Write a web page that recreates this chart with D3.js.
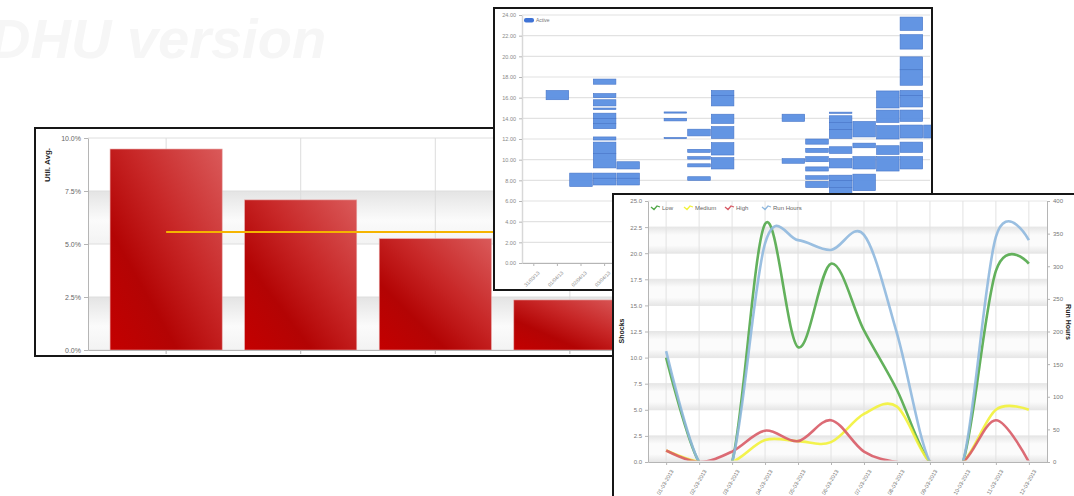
<!DOCTYPE html>
<html><head><meta charset="utf-8">
<script src="https://cdn.jsdelivr.net/npm/d3@7"></script>
<style>html,body{margin:0;padding:0;background:#fff;overflow:hidden}svg{display:block;font-family:"Liberation Sans",Arial,sans-serif}</style>
</head><body><svg id="c" width="1074" height="496"></svg>
<script>
// ---------- Panel 1: utilisation bars ----------
const utilCategories = ["Unit 1", "Unit 2", "Unit 3", "Unit 4"];
const utilValues = [9.48, 7.08, 5.25, 2.36];
const utilAverage = 5.57;
const utilTicks = [0, 2.5, 5, 7.5, 10];

// ---------- Panel 2: activity blocks (column, from hour, to hour) ----------
const ganttDays = ["31/03/13","01/04/13","02/04/13","03/04/13","04/04/13","05/04/13","06/04/13","07/04/13","08/04/13",
                   "09/04/13","10/04/13","11/04/13","12/04/13","13/04/13","14/04/13","15/04/13","16/04/13","17/04/13"];
const ganttCol  = [1, 2,
  3,3,3,3,3,3,3,3,3,3,3,3,
  4,4,4,
  6,6,6,
  7,7,7,7,7,
  8,8,8,8,8,8,
  11,11,
  12,12,12,12,12,12,
  13,13,13,13,13,13,13,13,13,
  14,14,14,14,
  15,15,15,15,15,
  16,16,16,16,16,16,16,16,16,16,
  17];
const ganttFrom = [15.8, 7.4,
  17.3,16.0,15.2,14.85,14.0,13.5,13.0,11.9,10.6,9.2,8.2,7.55,
  9.1,8.2,7.55,
  14.52,13.75,12.05,
  12.3,10.7,10.05,9.3,8.0,
  16.2,15.2,13.5,12.05,10.45,9.1,
  13.7,9.65,
  11.5,10.7,9.8,8.9,8.1,7.3,
  14.48,13.6,12.9,12.05,10.6,9.2,8.0,7.3,6.5,
  12.2,11.15,9.1,7.0,
  15.0,13.6,12.0,10.5,8.9,
  22.5,20.7,18.7,17.2,16.2,15.1,13.7,12.1,10.7,9.1,
  12.1];
const ganttTo   = [16.7, 8.7,
  17.8,16.4,15.8,15.0,14.5,14.0,13.5,12.2,11.7,10.6,8.7,8.2,
  9.8,8.7,8.2,
  14.62,14.0,12.15,
  12.95,11.0,10.3,9.6,8.35,
  16.7,16.2,14.4,13.2,11.65,10.2,
  14.4,10.1,
  12.0,11.1,10.3,9.3,8.45,7.9,
  14.6,14.25,13.6,12.9,11.25,10.1,8.5,8.0,7.3,
  13.7,11.6,10.3,8.6,
  16.65,14.8,13.3,11.35,10.3,
  23.8,22.1,19.95,18.7,16.7,16.2,14.8,13.35,11.7,10.3,
  13.35];
const ganttTicks = [0, 2, 4, 6, 8, 10, 12, 14, 16, 18, 20, 22, 24];

// ---------- Panel 3: shocks & run hours ----------
const shockDates = ["01-03-2013","02-03-2013","03-03-2013","04-03-2013","05-03-2013","06-03-2013",
                    "07-03-2013","08-03-2013","09-03-2013","10-03-2013","11-03-2013","12-03-2013"];
const lowShocks    = [10.0, 0, 0, 22.8, 11.0, 19.0, 12.6, 6.9, 0, 0, 18.3, 19.0];
const mediumShocks = [1.1, 0, 0, 2.1, 2.0, 1.9, 4.6, 5.3, 0, 0, 5.0, 5.0];
const highShocks   = [1.1, 0, 1.0, 3.0, 2.0, 4.0, 1.0, 0, 0, 0, 4.0, 0];
const runHours     = [170, 0, 0, 335, 340, 325, 348, 197, 0, 0, 345, 340];
const shockTicks = [0, 2.5, 5, 7.5, 10, 12.5, 15, 17.5, 20, 22.5, 25];
const hourTicks  = [0, 50, 100, 150, 200, 250, 300, 350, 400];
const seriesNames  = ["Low", "Medium", "High", "Run Hours"];
const seriesColors = ["#52a84a", "#f2f23a", "#d85b66", "#8fb8de"];

const svg = d3.select("#c");
const defs = svg.append("defs");

// watermark
svg.append("text").attr("x", -10).attr("y", 58).attr("font-size", 56)
  .attr("font-weight", "bold").attr("font-style", "italic").attr("fill", "#f6f6f6")
  .text("DHU version");

function styleAxis(g, color, size) {
  g.select(".domain").attr("stroke", "#b5b5b5");
  g.selectAll(".tick line").attr("stroke", "#b5b5b5");
  g.selectAll(".tick text").attr("fill", color).attr("font-size", size).attr("font-family", "Liberation Sans, Arial, sans-serif");
}

// ================= PANEL 1 =================
{
  const p = svg.append("g");
  const fx = 35, fy = 128, fw = 625, fh = 228;
  defs.append("clipPath").attr("id", "clip1").append("rect").attr("x", fx).attr("y", fy).attr("width", fw).attr("height", fh);
  p.append("rect").attr("x", fx).attr("y", fy).attr("width", fw).attr("height", fh).attr("fill", "#fff");
  const g = p.append("g").attr("clip-path", "url(#clip1)");
  const x = d3.scaleBand().domain(utilCategories).range([88, 648]).paddingInner(0.167).paddingOuter(0.164);
  const y = d3.scaleLinear().domain([0, 10]).range([350, 138]);

  const bg = defs.append("linearGradient").attr("id", "band1").attr("x1", 0).attr("y1", 0).attr("x2", 0).attr("y2", 1);
  bg.append("stop").attr("offset", 0).attr("stop-color", "#e4e4e4");
  bg.append("stop").attr("offset", 0.55).attr("stop-color", "#fbfbfb");
  bg.append("stop").attr("offset", 1).attr("stop-color", "#f3f3f3");
  g.selectAll(".band").data([[5, 7.5], [0, 2.5]]).join("rect")
    .attr("x", 88).attr("width", 560).attr("y", d => y(d[1])).attr("height", d => y(d[0]) - y(d[1]))
    .attr("fill", "url(#band1)");
  g.selectAll(".hg").data(utilTicks).join("line")
    .attr("x1", 88).attr("x2", 648).attr("y1", d => y(d)).attr("y2", d => y(d)).attr("stroke", "#dedede");
  g.selectAll(".vg").data(utilCategories).join("line")
    .attr("x1", d => x(d) + x.bandwidth() / 2).attr("x2", d => x(d) + x.bandwidth() / 2)
    .attr("y1", 138).attr("y2", 350).attr("stroke", "#dcdcdc");

  const rg = defs.append("linearGradient").attr("id", "bar1").attr("x1", 0).attr("y1", 1).attr("x2", 1).attr("y2", 0);
  rg.append("stop").attr("offset", 0).attr("stop-color", "#c40000");
  rg.append("stop").attr("offset", 0.3).attr("stop-color", "#b30404");
  rg.append("stop").attr("offset", 0.6).attr("stop-color", "#c82828");
  rg.append("stop").attr("offset", 1).attr("stop-color", "#da5a5a");
  g.selectAll(".bar").data(utilValues).join("rect")
    .attr("x", (d, i) => x(utilCategories[i])).attr("width", x.bandwidth())
    .attr("y", d => y(d)).attr("height", d => y(0) - y(d))
    .attr("fill", "url(#bar1)").attr("stroke", "#e7a5a5").attr("stroke-width", 0.6);

  g.append("line")
    .attr("x1", x(utilCategories[0]) + x.bandwidth() / 2)
    .attr("x2", x(utilCategories[utilCategories.length - 1]) + x.bandwidth() / 2)
    .attr("y1", y(utilAverage)).attr("y2", y(utilAverage))
    .attr("stroke", "#f5b400").attr("stroke-width", 2);

  const ya = g.append("g").attr("transform", "translate(88,0)")
    .call(d3.axisLeft(y).tickValues(utilTicks).tickFormat(d => d.toFixed(1) + "%").tickSize(4).tickSizeOuter(0));
  styleAxis(ya, "#666", 7);
  const xa = g.append("g").attr("transform", "translate(0,350)")
    .call(d3.axisBottom(x).tickSize(4).tickSizeOuter(0).tickFormat(""));
  styleAxis(xa, "#666", 7);
  g.append("text").attr("transform", "translate(50,165) rotate(-90)").attr("text-anchor", "middle")
    .attr("font-size", 8).attr("font-weight", "bold").attr("fill", "#222").text("Util. Avg.");

  p.append("rect").attr("x", fx).attr("y", fy).attr("width", fw).attr("height", fh)
    .attr("fill", "none").attr("stroke", "#161616").attr("stroke-width", 2);
}

// ================= PANEL 2 =================
{
  const p = svg.append("g");
  const fx = 494, fy = 8, fw = 438, fh = 282;
  p.append("rect").attr("x", fx).attr("y", fy).attr("width", fw).attr("height", fh).attr("fill", "#fff");
  defs.append("clipPath").attr("id", "clip2").append("rect").attr("x", 522).attr("y", 9).attr("width", 409).attr("height", 256);
  const x = d3.scaleBand().domain(ganttDays).range([522, 522 + 18 * 23.6]).padding(0);
  const y = d3.scaleLinear().domain([0, 24]).range([263, 15]);

  p.selectAll(".hg").data(ganttTicks).join("line")
    .attr("x1", 522).attr("x2", 930).attr("y1", d => y(d)).attr("y2", d => y(d))
    .attr("stroke", "#e2e2e2").attr("stroke-width", 1.2);

  const g = p.append("g").attr("clip-path", "url(#clip2)");
  g.selectAll(".blk").data(ganttCol).join("rect")
    .attr("x", (d, i) => x(ganttDays[d]) + 0.5).attr("width", x.bandwidth() - 1)
    .attr("y", (d, i) => y(ganttTo[i]))
    .attr("height", (d, i) => Math.max(1.2, y(ganttFrom[i]) - y(ganttTo[i])))
    .attr("fill", "#5b8fe2").attr("fill-opacity", 0.95)
    .attr("stroke", "#4675c8").attr("stroke-width", 0.6);

  const ya = p.append("g").attr("transform", "translate(522,0)")
    .call(d3.axisLeft(y).tickValues(ganttTicks).tickFormat(d => d.toFixed(2)).tickSize(3).tickSizeOuter(0));
  styleAxis(ya, "#888", 5.5);
  ya.select(".domain").attr("stroke", "#d8d8d8").attr("stroke-width", 1.5);
  const xa = p.append("g").attr("transform", "translate(0,263)")
    .call(d3.axisBottom(x).tickSize(3).tickSizeOuter(0));
  styleAxis(xa, "#888", 5);
  xa.selectAll(".tick text").attr("text-anchor", "end").attr("dx", 0).attr("dy", 0)
    .attr("transform", "translate(2,6) rotate(-45)");

  p.append("rect").attr("x", 524).attr("y", 18).attr("width", 10).attr("height", 4.5).attr("rx", 2)
    .attr("fill", "#3f73d6");
  p.append("text").attr("x", 536).attr("y", 22).attr("font-size", 5).attr("fill", "#777").text("Active");

  p.append("rect").attr("x", fx).attr("y", fy).attr("width", fw).attr("height", fh)
    .attr("fill", "none").attr("stroke", "#161616").attr("stroke-width", 2);
}

// ================= PANEL 3 =================
{
  const p = svg.append("g");
  const fx = 613, fy = 194, fw = 480, fh = 320;
  p.append("rect").attr("x", fx).attr("y", fy).attr("width", fw).attr("height", fh).attr("fill", "#fff");
  const x = d3.scalePoint().domain(shockDates).range([648, 1047]).padding(0.55);
  const yL = d3.scaleLinear().domain([0, 25]).range([462, 201]);
  const yR = d3.scaleLinear().domain([0, 400]).range([462, 201]);

  const bg = defs.append("linearGradient").attr("id", "band3").attr("x1", 0).attr("y1", 0).attr("x2", 0).attr("y2", 1);
  bg.append("stop").attr("offset", 0).attr("stop-color", "#e6e6e6");
  bg.append("stop").attr("offset", 0.3).attr("stop-color", "#fbfbfb");
  bg.append("stop").attr("offset", 0.7).attr("stop-color", "#fbfbfb");
  bg.append("stop").attr("offset", 1).attr("stop-color", "#e6e6e6");
  p.selectAll(".band").data([[0, 2.5], [5, 7.5], [10, 12.5], [15, 17.5], [20, 22.5]]).join("rect")
    .attr("x", 648).attr("width", 399).attr("y", d => yL(d[1])).attr("height", d => yL(d[0]) - yL(d[1]))
    .attr("fill", "url(#band3)");
  p.selectAll(".hg").data(shockTicks).join("line")
    .attr("x1", 648).attr("x2", 1047).attr("y1", d => yL(d)).attr("y2", d => yL(d)).attr("stroke", "#e6e6e6");
  p.selectAll(".vg").data(shockDates).join("line")
    .attr("x1", d => x(d)).attr("x2", d => x(d)).attr("y1", 201).attr("y2", 462).attr("stroke", "#e2e2e2");

  const ya = p.append("g").attr("transform", "translate(648,0)")
    .call(d3.axisLeft(yL).tickValues(shockTicks).tickFormat(d => d.toFixed(1)).tickSize(3).tickSizeOuter(0));
  styleAxis(ya, "#777", 6);
  const yb = p.append("g").attr("transform", "translate(1047,0)")
    .call(d3.axisRight(yR).tickValues(hourTicks).tickSize(3).tickSizeOuter(0));
  styleAxis(yb, "#777", 6);
  const xa = p.append("g").attr("transform", "translate(0,462)")
    .call(d3.axisBottom(x).tickSize(3).tickSizeOuter(0));
  styleAxis(xa, "#777", 5.5);
  xa.selectAll(".tick text").attr("text-anchor", "end").attr("dx", 0).attr("dy", 0)
    .attr("transform", "translate(2,6) rotate(-60)");

  defs.append("clipPath").attr("id", "clip3").append("rect").attr("x", 640).attr("y", 196).attr("width", 415).attr("height", 264.6);
  const lg = p.append("g").attr("clip-path", "url(#clip3)");
  const series = [lowShocks, mediumShocks, highShocks, runHours];
  series.forEach((vals, si) => {
    const ys = si === 3 ? yR : yL;
    const line = d3.line().x((d, i) => x(shockDates[i])).y(d => ys(d)).curve(d3.curveCardinal.tension(0));
    lg.append("path").datum(vals).attr("d", line).attr("fill", "none")
      .attr("stroke", seriesColors[si]).attr("stroke-width", 2.6).attr("stroke-opacity", 0.9)
      .attr("stroke-linejoin", "round");
  });

  const legX = [651, 684, 725, 762];
  seriesNames.forEach((n, i) => {
    const lx = legX[i], ly = 208;
    p.append("path").attr("d", `M${lx},${ly - 1} L${lx + 3},${ly + 1.5} L${lx + 6},${ly - 2} L${lx + 9},${ly - 1}`)
      .attr("fill", "none").attr("stroke", seriesColors[i]).attr("stroke-width", 1.3);
    p.append("text").attr("x", lx + 11).attr("y", ly + 2).attr("font-size", 6).attr("fill", "#666").text(n);
  });

  p.append("text").attr("transform", "translate(624,331) rotate(-90)").attr("text-anchor", "middle")
    .attr("font-size", 7).attr("font-weight", "bold").attr("fill", "#222").text("Shocks");
  p.append("text").attr("transform", "translate(1066,322) rotate(90)").attr("text-anchor", "middle")
    .attr("font-size", 7).attr("font-weight", "bold").attr("fill", "#222").text("Run Hours");

  p.append("rect").attr("x", fx).attr("y", fy).attr("width", fw).attr("height", fh)
    .attr("fill", "none").attr("stroke", "#161616").attr("stroke-width", 2);
}
</script></body></html>
